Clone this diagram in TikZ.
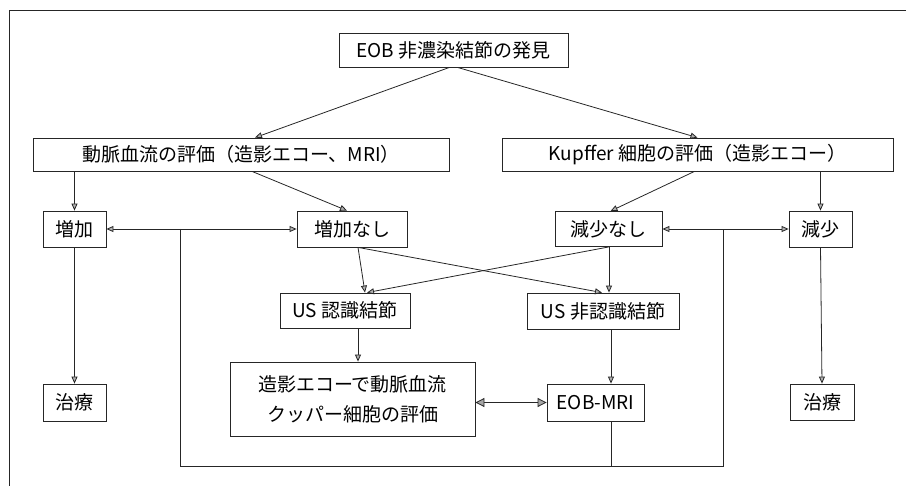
\documentclass[tikz,border=0pt]{standalone}
\usepackage{fontspec}
\setmainfont{Noto Sans CJK JP}
\usetikzlibrary{arrows.meta,calc}
\tikzset{
  box/.style={draw=black!85,line width=0.8pt,inner sep=0pt,align=center,
    font=\fontsize{19}{30}\selectfont},
  ln/.style={draw=black!85,line width=0.8pt},
  arr/.style={ln,-{Triangle[length=7pt,width=6pt,fill=gray!60]}},
  darr/.style={ln,{Triangle[length=7pt,width=6pt,fill=gray!60]}-{Triangle[length=7pt,width=6pt,fill=gray!60]}},
  bigdarr/.style={ln,{Triangle[length=9pt,width=9pt,fill=gray!70]}-{Triangle[length=9pt,width=9pt,fill=gray!70]}}
}
\begin{document}
\begin{tikzpicture}[x=1pt,y=-1pt]
\useasboundingbox (0,0) rectangle (908,486);
% partial frame
\coordinate (ftr) at (906,10);
\coordinate (ftl) at (9,10);
\coordinate (fbl) at (9,486);
\draw[ln] (ftr) -- (ftl) -- (fbl);

\node[box,minimum width=229,minimum height=34] (top) at (453.5,50) {EOB 非濃染結節の発見};
\node[box,minimum width=416,minimum height=33] (art) at (241,154.5) {動脈血流の評価（造影エコー、MRI）};
\node[box,minimum width=391,minimum height=33] (kup) at (697.5,154.5) {Kupffer 細胞の評価（造影エコー）};
\node[box,minimum width=63,minimum height=36] (zoka) at (74.5,229) {増加};
\node[box,minimum width=110,minimum height=36] (zokan) at (352,229) {増加なし};
\node[box,minimum width=107,minimum height=35] (genn) at (608.5,229) {減少なし};
\node[box,minimum width=63,minimum height=36] (gen) at (820.5,229) {減少};
\node[box,minimum width=130,minimum height=35] (usn) at (345,310.5) {US 認識結節};
\node[box,minimum width=152,minimum height=36] (ushn) at (603,311) {US 非認識結節};
\node[box,minimum width=245,minimum height=74] (zoei) at (352.5,399) {造影エコーで動脈血流\\クッパー細胞の評価};
\node[box,minimum width=97,minimum height=37] (eob) at (595.5,402.5) {EOB-MRI};
\node[box,minimum width=63,minimum height=37] (chl) at (74.5,402.5) {治療};
\node[box,minimum width=64,minimum height=36] (chr) at (822,402) {治療};

% top split
\draw[arr] ([xshift=-4]top.south) -- ([xshift=14]art.north);
\draw[arr] ([xshift=4]top.south) -- (kup.north);
% art to children
\draw[arr] (art.south -| zoka) -- (zoka.north);
\draw[arr] ([xshift=11]art.south) -- ([xshift=-5]zokan.north);
% kup to children
\draw[arr] ([xshift=-3]kup.south) -- ([xshift=2]genn.north);
\draw[arr] (kup.south -| gen) -- (gen.north);
% increase / decrease to treatment
\draw[arr] (zoka.south) -- (chl.north);
\draw[arr] (gen.south) -- (chr.north);
% double arrows
\draw[darr] (zoka.east) -- (zokan.west);
\draw[darr] (genn.east) -- (gen.west);
% crossing arrows
\draw[arr] ([xshift=6]zokan.south) -- ([xshift=13]zokan.south |- usn.north);
\draw[arr] ([xshift=6]zokan.south) -- ([xshift=-1]ushn.north);
\draw[arr] ([xshift=0.5]genn.south) -- ([xshift=22]usn.north);
\draw[arr] ([xshift=0.5]genn.south) -- ([xshift=6]ushn.north);
% to lower boxes
\draw[arr] ([xshift=13]usn.south) -- ([xshift=13]usn.south |- zoei.north);
\draw[arr] ([xshift=8]ushn.south) -- ([xshift=8]ushn.south |- eob.north);
\draw[bigdarr] (zoei.east |- eob.west) -- (eob.west);
% loop lines
\coordinate (bl) at (180,466);
\coordinate (br) at (723,466);
\draw[ln] (zoka.east -| bl) -- (bl) -- (br) -- (br |- gen.west);
\draw[ln] ([xshift=15.5]eob.south) -- ([xshift=15.5]eob.south |- bl);
\end{tikzpicture}
\end{document}
